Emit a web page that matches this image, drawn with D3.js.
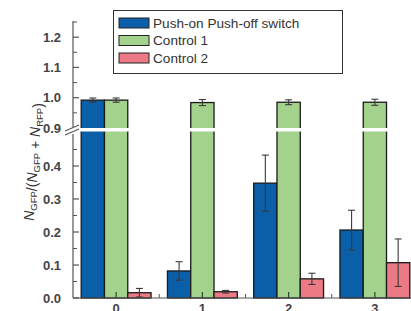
<!DOCTYPE html>
<html>
<head>
<meta charset="utf-8">
<script src="https://cdn.jsdelivr.net/npm/d3@7"></script>
<style>
  body { margin: 0; background: #fff; }
  text { font-family: "Liberation Sans", Arial, sans-serif; }
</style>
</head>
<body>
<svg id="chart"></svg>
<script>
// Chart data
var categories = ["0", "1", "2", "3"];
var seriesNames = ["Push-on Push-off switch", "Control 1", "Control 2"];
var switchValues = [0.992, 0.082, 0.348, 0.206];
var switchErrors = [0.007, 0.028, 0.085, 0.06];
var control1Values = [0.992, 0.984, 0.985, 0.985];
var control1Errors = [0.007, 0.01, 0.008, 0.01];
var control2Values = [0.016, 0.019, 0.058, 0.107];
var control2Errors = [0.013, 0.004, 0.017, 0.072];
var upperTicks = [0.9, 1.0, 1.1, 1.2];
var lowerTicks = [0.0, 0.1, 0.2, 0.3, 0.4];

var colours = ["#0b5ea8", "#a2d28b", "#eb7a84"];

var width = 411,
    height = 311;

var svg = d3.select("#chart")
  .attr("width", width)
  .attr("height", height);

// x scales: one band per group, then one band per series inside it
var x = d3.scaleBand()
  .domain(categories)
  .range([73, 418])
  .paddingInner(0.19)
  .paddingOuter(0.095);

var xInner = d3.scaleBand()
  .domain(d3.range(seriesNames.length))
  .range([0, x.bandwidth()]);

// broken y axis: two linear pieces
var yTop = d3.scaleLinear().domain([0.9, 1.25]).range([128, 22]);
var yBot = d3.scaleLinear().domain([0, 0.5]).range([298, 133]);

function yPos(v) {
  return v >= 0.9 ? yTop(v) : yBot(v);
}

var series = [
  { values: switchValues, errors: switchErrors },
  { values: control1Values, errors: control1Errors },
  { values: control2Values, errors: control2Errors }
];

var rows = [];
series.forEach(function (s, si) {
  s.values.forEach(function (v, ci) {
    rows.push({ cat: categories[ci], s: si, v: v, e: s.errors[ci] });
  });
});

// bars
svg.selectAll(".bar")
  .data(rows)
  .enter().append("rect")
  .attr("class", "bar")
  .attr("x", function (d) { return x(d.cat) + xInner(d.s); })
  .attr("width", xInner.bandwidth())
  .attr("y", function (d) { return yPos(d.v); })
  .attr("height", function (d) { return yBot(0) - yPos(d.v); })
  .attr("fill", function (d) { return colours[d.s]; })
  .attr("stroke", "#1a1a1a")
  .attr("stroke-width", 1.3);

// error bars
var err = svg.selectAll(".err")
  .data(rows)
  .enter().append("g")
  .attr("class", "err")
  .attr("stroke", "#3a3a3a")
  .attr("stroke-width", 1.1);

err.append("line")
  .attr("x1", function (d) { return x(d.cat) + xInner(d.s) + xInner.bandwidth() / 2; })
  .attr("x2", function (d) { return x(d.cat) + xInner(d.s) + xInner.bandwidth() / 2; })
  .attr("y1", function (d) { return yPos(d.v + d.e); })
  .attr("y2", function (d) { return yPos(d.v - d.e); });

[1, -1].forEach(function (sign) {
  err.append("line")
    .attr("x1", function (d) { return x(d.cat) + xInner(d.s) + xInner.bandwidth() / 2 - 3.5; })
    .attr("x2", function (d) { return x(d.cat) + xInner(d.s) + xInner.bandwidth() / 2 + 3.5; })
    .attr("y1", function (d) { return yPos(d.v + sign * d.e); })
    .attr("y2", function (d) { return yPos(d.v + sign * d.e); });
});

// white gap of the axis break across the bars
svg.append("rect")
  .attr("x", 74)
  .attr("y", 128)
  .attr("width", width - 74)
  .attr("height", 3.5)
  .attr("fill", "#fff");

// y axes (ticks point inwards)
var axisColour = "#555";

function drawYAxis(scale, ticks, minor, y0, y1, labelTicks) {
  var g = svg.append("g").attr("transform", "translate(73,0)");
  g.append("line")
    .attr("y1", y0).attr("y2", y1)
    .attr("stroke", axisColour).attr("stroke-width", 1.2);
  g.selectAll(".major")
    .data(ticks)
    .enter().append("line")
    .attr("x1", 0).attr("x2", 6)
    .attr("y1", scale).attr("y2", scale)
    .attr("stroke", axisColour).attr("stroke-width", 1.2);
  g.selectAll(".minor")
    .data(minor)
    .enter().append("line")
    .attr("x1", 0).attr("x2", 4)
    .attr("y1", scale).attr("y2", scale)
    .attr("stroke", axisColour).attr("stroke-width", 1);
  g.selectAll(".lab")
    .data(labelTicks)
    .enter().append("text")
    .attr("x", -12)
    .attr("y", scale)
    .attr("dy", "0.35em")
    .attr("text-anchor", "end")
    .attr("font-size", 13)
    .attr("font-weight", "bold")
    .attr("fill", "#444")
    .text(d3.format(".1f"));
}

drawYAxis(yTop, [1.0, 1.1, 1.2], [0.95, 1.05, 1.15, 1.25], 127, 21, upperTicks);
drawYAxis(yBot, lowerTicks, [0.05, 0.15, 0.25, 0.35, 0.45], 298, 134, lowerTicks);

// break marks
[0, 4].forEach(function (dy) {
  svg.append("line")
    .attr("x1", 65).attr("y1", 131 + dy)
    .attr("x2", 79).attr("y2", 125 + dy)
    .attr("stroke", axisColour).attr("stroke-width", 1.1);
});

// x axis
svg.append("line")
  .attr("x1", 73).attr("x2", width)
  .attr("y1", 298).attr("y2", 298)
  .attr("stroke", axisColour).attr("stroke-width", 1.2);

svg.selectAll(".xtick")
  .data(categories)
  .enter().append("line")
  .attr("x1", function (d) { return x(d) + x.bandwidth() / 2; })
  .attr("x2", function (d) { return x(d) + x.bandwidth() / 2; })
  .attr("y1", 298).attr("y2", 292)
  .attr("stroke", "#2a4a2a").attr("stroke-width", 1.2);

svg.selectAll(".xminor")
  .data(categories.slice(1))
  .enter().append("line")
  .attr("x1", function (d) { return x(d) - x.step() * x.paddingInner() / 2; })
  .attr("x2", function (d) { return x(d) - x.step() * x.paddingInner() / 2; })
  .attr("y1", 298).attr("y2", 294)
  .attr("stroke", axisColour).attr("stroke-width", 1);

svg.selectAll(".xlab")
  .data(categories)
  .enter().append("text")
  .attr("x", function (d) { return x(d) + x.bandwidth() / 2; })
  .attr("y", 313)
  .attr("text-anchor", "middle")
  .attr("font-size", 13)
  .attr("font-weight", "bold")
  .attr("fill", "#444")
  .text(function (d) { return d; });

// y axis title
var title = svg.append("text")
  .attr("transform", "translate(34,162) rotate(-90)")
  .attr("text-anchor", "middle")
  .attr("font-size", 14)
  .attr("fill", "#333");

function addN(sub) {
  title.append("tspan").attr("font-style", "italic").text("N");
  title.append("tspan").attr("font-size", 9.5).attr("dy", 3).text(sub);
  title.append("tspan").attr("dy", -3).text("");
}
addN("GFP");
title.append("tspan").text("/(");
addN("GFP");
title.append("tspan").text(" + ");
addN("RFP");
title.append("tspan").text(")");

// legend
var legend = svg.append("g");
legend.append("rect")
  .attr("x", 113.5).attr("y", 10.5)
  .attr("width", 229).attr("height", 63)
  .attr("fill", "#fff")
  .attr("stroke", "#333").attr("stroke-width", 1);

var item = legend.selectAll(".item")
  .data(seriesNames)
  .enter().append("g")
  .attr("transform", function (d, i) { return "translate(119," + (23 + i * 17.5) + ")"; });

item.append("rect")
  .attr("x", 0).attr("y", -5)
  .attr("width", 30).attr("height", 10)
  .attr("fill", function (d, i) { return colours[i]; })
  .attr("stroke", "#222").attr("stroke-width", 1);

item.append("text")
  .attr("x", 34)
  .attr("dy", "0.36em")
  .attr("font-size", 13.6)
  .attr("fill", "#333")
  .text(function (d) { return d; });
</script>
</body>
</html>
